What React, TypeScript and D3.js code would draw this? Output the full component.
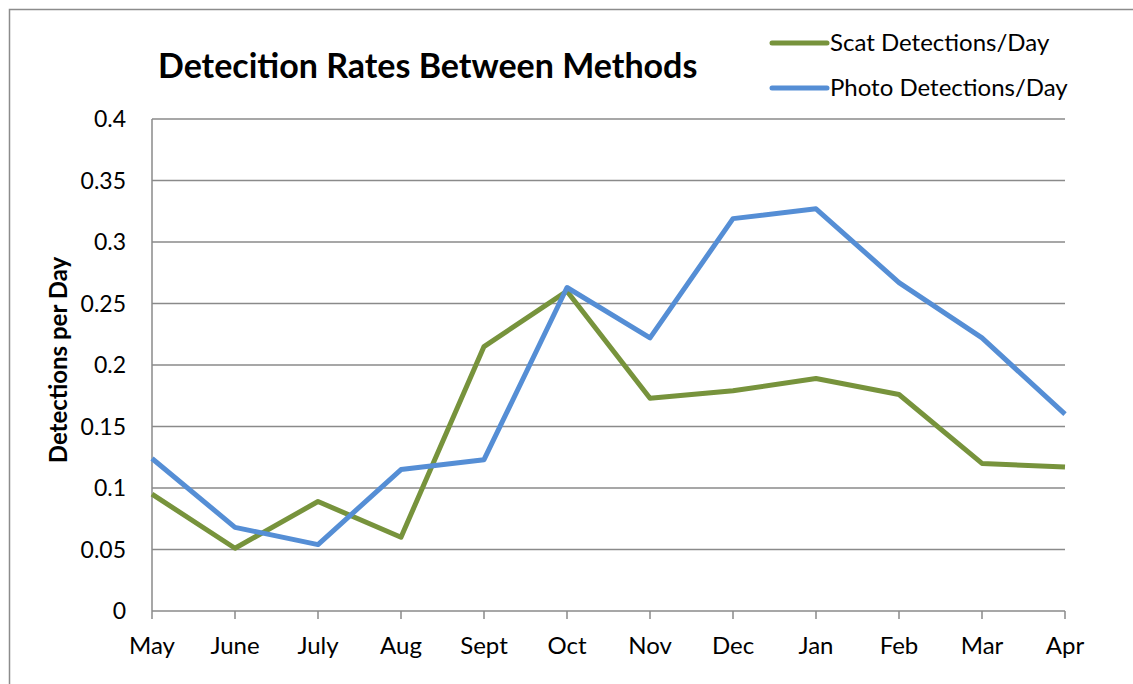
import React from "react";
import * as d3 from "d3";

const months = ["May", "June", "July", "Aug", "Sept", "Oct", "Nov", "Dec", "Jan", "Feb", "Mar", "Apr"];
const scatPerDay = [0.095, 0.051, 0.089, 0.06, 0.215, 0.26, 0.173, 0.179, 0.189, 0.176, 0.12, 0.117];
const photoPerDay = [0.124, 0.068, 0.054, 0.115, 0.123, 0.263, 0.222, 0.319, 0.327, 0.267, 0.222, 0.16];
const yTicks = [0, 0.05, 0.1, 0.15, 0.2, 0.25, 0.3, 0.35, 0.4];

const series = [
  { name: "Scat Detections/Day", values: scatPerDay, color: "#77933C" },
  { name: "Photo Detections/Day", values: photoPerDay, color: "#558ED5" },
];

const W = 1133;
const H = 684;
const left = 152;
const right = 1065;
const top = 119;
const bottom = 611;
const font = "Lato, 'Open Sans', sans-serif";

export default function App() {
  const x = d3.scalePoint<string>().domain(months).range([left, right]);
  const y = d3.scaleLinear().domain([0, 0.4]).range([bottom, top]);

  const line = d3
    .line<number>()
    .x((d, i) => x(months[i]) as number)
    .y((d) => y(d));

  return (
    <div style={{ position: "absolute", left: 0, top: 0 }}>
      <svg width={W} height={H} style={{ display: "block" }} fontFamily={font}>
        <rect x={0} y={0} width={W} height={H} fill="#fff" />
        <rect x={9.5} y={9.5} width={W + 20} height={H + 20} fill="none" stroke="#8c8c8c" strokeWidth={1.5} />

        <text x={158} y={78} fontSize={34} fontWeight="bold" fill="#000">
          Detecition Rates Between Methods
        </text>

        {/* gridlines */}
        {yTicks.map((t) => (
          <line key={t} x1={left} x2={right} y1={y(t)} y2={y(t)} stroke="#8a8a8a" strokeWidth={1.5} />
        ))}
        <line x1={left} x2={left} y1={top} y2={bottom} stroke="#8a8a8a" strokeWidth={1.5} />
        {months.map((m) => (
          <line key={m} x1={x(m)} x2={x(m)} y1={bottom} y2={bottom + 8} stroke="#8a8a8a" strokeWidth={1.5} />
        ))}

        {yTicks.map((t) => (
          <text key={t} x={126} y={y(t)} dy="0.35em" textAnchor="end" fontSize={23} fill="#000">
            {String(t)}
          </text>
        ))}
        {months.map((m) => (
          <text key={m} x={x(m)} y={654} textAnchor="middle" fontSize={24} fill="#000">
            {m}
          </text>
        ))}

        <text
          transform={`translate(67, 360) rotate(-90)`}
          textAnchor="middle"
          fontSize={24}
          fontWeight="bold"
          fill="#000"
        >
          Detections per Day
        </text>

        {series.map((s) => (
          <path
            key={s.name}
            d={line(s.values) || ""}
            fill="none"
            stroke={s.color}
            strokeWidth={5}
            strokeLinejoin="round"
          />
        ))}

        {series.map((s, i) => (
          <g key={s.name} transform={`translate(0, ${43 + i * 45})`}>
            <line x1={772} x2={827} y1={0} y2={0} stroke={s.color} strokeWidth={5} strokeLinecap="round" />
            <text x={830} y={0} dy="0.35em" fontSize={24} fill="#000">
              {s.name}
            </text>
          </g>
        ))}
      </svg>
    </div>
  );
}
